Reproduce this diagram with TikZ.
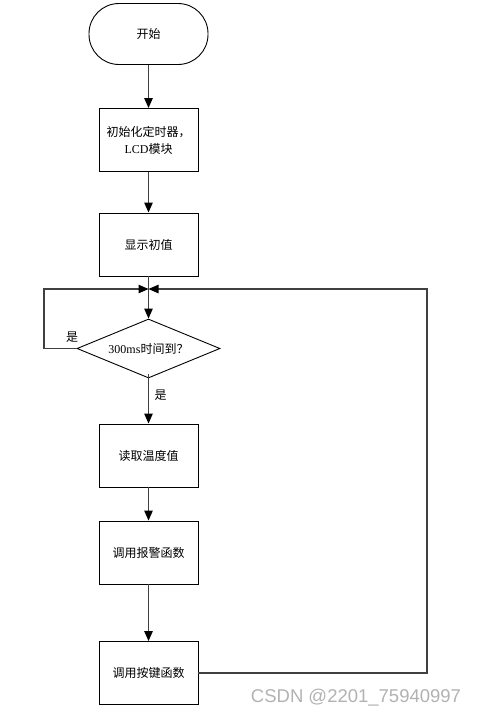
\documentclass[tikz,border=0pt]{standalone}
\usepackage{fontspec}
\setmainfont{Liberation Serif}
\newfontfamily\cjk{Noto Sans CJK SC}
\newfontfamily\wmfont{Liberation Sans}
\usetikzlibrary{arrows.meta,shapes.geometric}
\begin{document}
\begin{tikzpicture}[x=1pt,y=-1pt,
  box/.style={draw=black,line width=0.9pt,minimum width=99pt,minimum height=63pt,inner sep=0pt,align=center,font=\fontsize{12}{17}\selectfont},
  term/.style={draw=black,line width=0.9pt,rounded corners=30pt,minimum width=119pt,minimum height=61pt,inner sep=0pt,font=\fontsize{12}{14}\selectfont},
  dec/.style={draw=black,line width=0.9pt,diamond,aspect=2.42,minimum width=143pt,minimum height=59pt,inner sep=0pt,font=\fontsize{12}{14}\selectfont},
  conn/.style={draw=black!75,line width=1.2pt},
  arr/.style={conn,-{Triangle[length=10pt,width=8.5pt,color=black,fill=black]}},
  lbl/.style={font=\cjk\fontsize{12}{14}\selectfont,inner sep=0pt}
]
\useasboundingbox (0,0) rectangle (477,717);
\node[term] (start) at (148.5,34) {\cjk 开始};
\node[box] (init) at (148.5,140) {{\cjk 初始化定时器，}\\LCD{\cjk 模块}};
\node[box] (show) at (148.5,244.5) {\cjk 显示初值};
\coordinate (m) at (148.5,289);
\node[dec] (d) at (148.5,348.5) {300ms{\cjk 时间到？}};
\node[box] (read) at (148.5,455.5) {\cjk 读取温度值};
\node[box] (alarm) at (148.5,552.5) {\cjk 调用报警函数};
\node[box] (key) at (148.5,673) {\cjk 调用按键函数};
\coordinate (lc) at (44,289);
\coordinate (rc) at (427,289);

\draw[arr] (start) -- (init);
\draw[arr] (init) -- (show);
\draw[arr] (show) -- (d);
\draw[arr] (d.west) -- (44,348.5) -- (lc) -- (m);
\draw[arr] (key.east) -- (427,673) -- (rc) -- (m);
\draw[arr] ([yshift=4pt]d.south) -- (read);
\draw[arr] (read) -- (alarm);
\draw[arr] (alarm) -- (key);

\node[lbl] (yes1) at (72,337) {是};
\node[lbl] (yes2) at (160.5,395) {是};
\node[font=\wmfont\fontsize{18.5}{20}\selectfont,text=black!30,inner sep=0pt] (wm) at (356,698) {CSDN @2201\_75940997};
\end{tikzpicture}
\end{document}
